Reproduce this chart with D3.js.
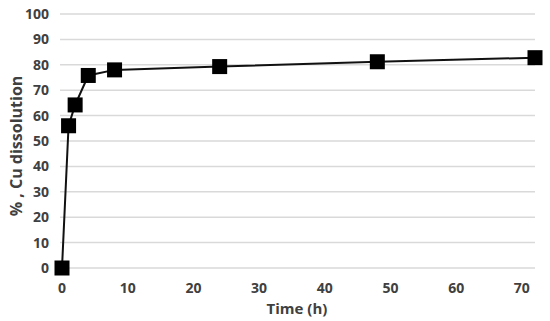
<!DOCTYPE html>
<meta charset="utf-8">
<title>Cu dissolution</title>
<style>
    body { margin: 0; background: #fff; }
    text {
        font-family: "Open Sans", "DejaVu Sans", sans-serif;
        font-weight: bold;
        fill: #404040;
    }
    .grid line { stroke: #d9d9d9; stroke-width: 1.5; }
</style>

<svg width="550" height="321"></svg>

<script src="https://d3js.org/d3.v7.min.js"></script>
<script>

    // data
    var timeH = [0, 1, 2, 4, 8, 24, 48, 72];
    var cuPct = [0, 56, 64.2, 75.8, 78, 79.3, 81.2, 82.8];
    var xTicks = [0, 10, 20, 30, 40, 50, 60, 70];
    var yTicks = [0, 10, 20, 30, 40, 50, 60, 70, 80, 90, 100];

    var svg = d3.select("svg");

    var x = d3.scaleLinear().domain([0, 72]).range([62, 535]);
    var y = d3.scaleLinear().domain([0, 100]).range([268, 14]);

    // horizontal gridlines
    svg.append("g")
        .attr("class", "grid")
        .selectAll("line")
        .data(yTicks)
        .enter().append("line")
        .attr("x1", 60)
        .attr("x2", 535)
        .attr("y1", function (d) { return y(d); })
        .attr("y2", function (d) { return y(d); });

    // y tick labels
    svg.append("g")
        .selectAll("text")
        .data(yTicks)
        .enter().append("text")
        .attr("x", 49)
        .attr("y", function (d) { return y(d); })
        .attr("dy", "0.35em")
        .attr("text-anchor", "end")
        .style("font-size", "14px")
        .text(function (d) { return d; });

    // x tick labels
    svg.append("g")
        .selectAll("text")
        .data(xTicks)
        .enter().append("text")
        .attr("x", function (d) { return x(d); })
        .attr("y", 293)
        .attr("text-anchor", "middle")
        .style("font-size", "14px")
        .text(function (d) { return d; });

    // axis titles
    svg.append("text")
        .attr("x", 297)
        .attr("y", 314)
        .attr("text-anchor", "middle")
        .style("font-size", "15px")
        .text("Time (h)");

    svg.append("text")
        .attr("transform", "translate(22,146) rotate(-90)")
        .attr("text-anchor", "middle")
        .style("font-size", "16px")
        .text("% , Cu dissolution");

    var pts = timeH.map(function (t, i) { return [t, cuPct[i]]; });

    var line = d3.line()
        .x(function (d) { return x(d[0]); })
        .y(function (d) { return y(d[1]); });

    svg.append("path")
        .datum(pts)
        .attr("fill", "none")
        .attr("stroke", "#111")
        .attr("stroke-width", 2)
        .attr("d", line);

    var s = 15;
    svg.append("g")
        .selectAll("rect")
        .data(pts)
        .enter().append("rect")
        .attr("x", function (d) { return x(d[0]) - s / 2; })
        .attr("y", function (d) { return y(d[1]) - s / 2; })
        .attr("width", s)
        .attr("height", s)
        .attr("fill", "#000");

</script>
